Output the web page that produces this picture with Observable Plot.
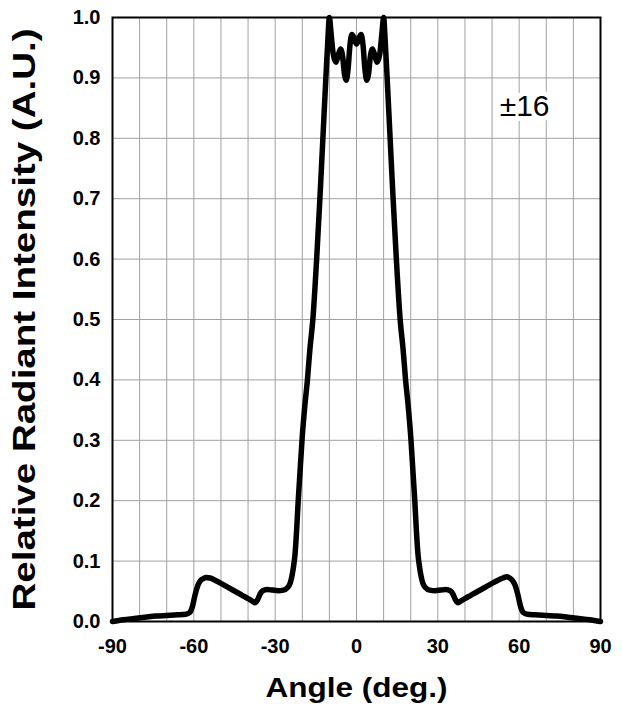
<!DOCTYPE html>
<html>
<head>
<meta charset="utf-8">
<script src="https://cdn.jsdelivr.net/npm/d3@7"></script>
<script src="https://cdn.jsdelivr.net/npm/@observablehq/plot@0.6"></script>
<style>
  html, body { margin: 0; padding: 0; background: #fff; }
</style>
</head>
<body>
<div id="chart"></div>
<script>
// Angle (deg.) and relative radiant intensity
const angles = [
  -90, -86, -82, -78, -74, -70, -66, -63, -61.5, -60.5, -59.5, -58.5, -57.5, -56.5, -55.5,
  -54, -52, -50, -48, -46, -44, -42, -40, -38.5, -37.5, -36.5, -35.5, -34.5, -33, -31,
  -29, -27, -25.5, -24.5, -23.7, -23.1, -22.7, -22.1, -21.5, -20.8, -20.1, -19.0, -18.1,
  -17.2, -16.1, -14.7, -13.5, -12.4, -11.3, -10.6, -10.0, -9.4, -8.6, -7.6, -6.7, -5.9,
  -5.1, -4.4, -3.8, -3.1, -2.4, -1.7, -0.9, 0,
  0.9, 1.7, 2.4, 3.1, 3.8, 4.4, 5.1, 5.9, 6.7, 7.6, 8.6, 9.4, 10.0, 10.6, 11.3, 12.4,
  13.5, 14.7, 16.1, 17.2, 18.1, 19.0, 20.1, 20.8, 21.5, 22.1, 22.7, 23.1, 23.7, 24.5,
  25.5, 27, 29, 31, 33, 34.5, 35.5, 36.5, 37.5, 38.5, 40, 42, 44, 46, 48, 50, 52, 54,
  55.5, 56.5, 57.5, 58.5, 59.5, 60.5, 61.5, 63, 66, 70, 74, 78, 82, 86, 90
];
const intensity = [
  0.000, 0.003, 0.005, 0.007, 0.009, 0.010, 0.011, 0.012, 0.015, 0.025, 0.045, 0.060, 0.068, 0.071, 0.073,
  0.072, 0.068, 0.063, 0.058, 0.053, 0.048, 0.043, 0.038, 0.034, 0.031, 0.036, 0.046, 0.051, 0.053, 0.052,
  0.051, 0.052, 0.056, 0.063, 0.078, 0.095, 0.110, 0.150, 0.200, 0.250, 0.300, 0.360, 0.400,
  0.450, 0.500, 0.600, 0.700, 0.800, 0.900, 0.960, 1.000, 0.975, 0.940, 0.926, 0.938, 0.948,
  0.935, 0.905, 0.896, 0.915, 0.955, 0.972, 0.966, 0.956,
  0.966, 0.972, 0.955, 0.915, 0.896, 0.905, 0.935, 0.948, 0.938, 0.926, 0.940, 0.975, 1.000, 0.960, 0.900, 0.800,
  0.700, 0.600, 0.500, 0.450, 0.400, 0.360, 0.300, 0.250, 0.200, 0.150, 0.110, 0.095, 0.078, 0.063,
  0.056, 0.052, 0.051, 0.052, 0.053, 0.051, 0.046, 0.036, 0.031, 0.034, 0.038, 0.043, 0.048, 0.053, 0.058, 0.063, 0.068, 0.072,
  0.074, 0.072, 0.068, 0.060, 0.045, 0.025, 0.015, 0.012, 0.011, 0.010, 0.009, 0.007, 0.005, 0.003, 0.000
];
const xTicks = [-90, -60, -30, 0, 30, 60, 90];
const xGrid = [-90, -80, -70, -60, -50, -40, -30, -20, -10, 0, 10, 20, 30, 40, 50, 60, 70, 80, 90];
const yTicks = [0, 0.1, 0.2, 0.3, 0.4, 0.5, 0.6, 0.7, 0.8, 0.9, 1.0];
const annotation = [{angle: 62, value: 0.853, label: "±16"}];
const xTitle = "Angle (deg.)";
const yTitle = "Relative Radiant Intensity (A.U.)";

const data = angles.map((a, i) => ({angle: a, value: intensity[i]}));

const chart = Plot.plot({
  width: 622,
  height: 708,
  marginLeft: 112,
  marginRight: 22,
  marginTop: 17,
  marginBottom: 87,
  style: {fontFamily: "'Liberation Sans', Arial, sans-serif", fontSize: "20px", fontWeight: "bold", color: "#000", background: "#fff"},
  x: {domain: [-90, 90]},
  y: {domain: [0, 1]},
  marks: [
    Plot.gridX(xGrid, {stroke: "#a0a0a0", strokeOpacity: 1, strokeWidth: 1}),
    Plot.gridY(yTicks, {stroke: "#a0a0a0", strokeOpacity: 1, strokeWidth: 1}),
    Plot.text(annotation, {x: "angle", y: "value", text: "label", fontSize: 30, fontWeight: "normal",
      fill: "#000", stroke: "#fff", strokeWidth: 10, lineAnchor: "middle", textAnchor: "middle"}),
    Plot.line(data, {x: "angle", y: "value", stroke: "#000", strokeWidth: 5.5, curve: "monotone-x", strokeLinejoin: "round"}),
    Plot.frame({stroke: "#000", strokeWidth: 2}),
    Plot.axisX(xTicks, {tickSize: 0, tickPadding: 17, label: null, tickFormat: d => String(d), fontSize: 20, fontWeight: "bold"}),
    Plot.axisY(yTicks, {tickSize: 0, tickPadding: 12, label: null, tickFormat: d3.format(".1f"), fontSize: 20, fontWeight: "bold"}),
    Plot.text([xTitle], {text: d => d, frameAnchor: "bottom", dy: 67, lineAnchor: "middle", textAnchor: "middle", fontSize: 27, fontWeight: "bold"}),
    Plot.text([yTitle], {text: d => d, frameAnchor: "left", dx: -87, rotate: -90, lineAnchor: "middle", textAnchor: "middle", fontSize: 31, fontWeight: "bold"})
  ]
});

d3.select(chart).selectAll("text").each(function() {
  const t = this.textContent;
  if (t === xTitle) { this.setAttribute("textLength", 182); this.setAttribute("lengthAdjust", "spacingAndGlyphs"); }
  if (t === yTitle) { this.setAttribute("textLength", 582); this.setAttribute("lengthAdjust", "spacingAndGlyphs"); }
});

document.getElementById("chart").appendChild(chart);
</script>
</body>
</html>
